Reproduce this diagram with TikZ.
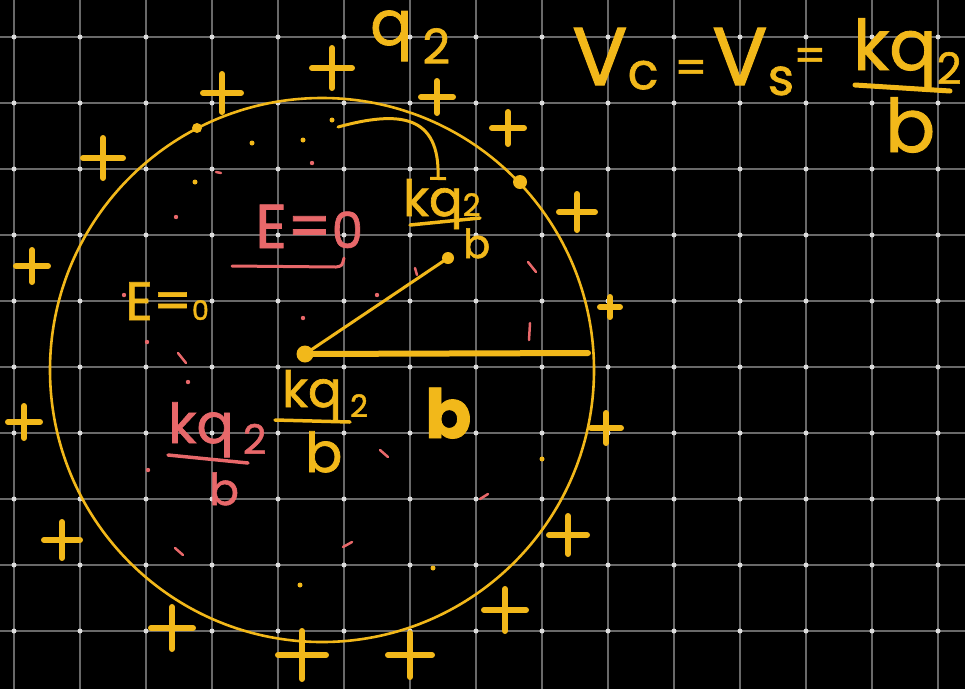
\documentclass[tikz,border=0pt]{standalone}
\usepackage{fontspec}
\setmainfont{Poppins}[FakeBold=1.3]
\definecolor{chalk}{RGB}{242,184,26}
\definecolor{rose}{RGB}{232,104,106}
\definecolor{gridline}{RGB}{105,105,105}
\definecolor{griddot}{RGB}{220,220,220}
\newcommand{\fs}[1]{\fontsize{#1}{#1}\selectfont}
\newcommand{\dn}[2][0.2em]{\raisebox{-#1}{\scalebox{0.62}{#2}}}
\begin{document}
\begin{tikzpicture}[x=1pt,y=-1pt,
  ink/.style={draw=chalk,line width=3pt,line cap=round},
  bar/.style={ink,line width=3.5pt},
  plus/.style={draw=chalk,line width=6pt,line cap=round},
  hand/.style={text=chalk,inner sep=0pt,anchor=base west},
  redhand/.style={hand,text=rose}]
\fill[black] (0,0) rectangle (965,689);
\useasboundingbox (0,0) rectangle (965,689);
% grid
\foreach \x in {14,80,...,938}
  \draw[gridline,line width=1.5pt] (\x,0)--(\x,689);
\foreach \y in {37,103,...,631}
  \draw[gridline,line width=1.5pt] (0,\y)--(965,\y);
\foreach \x in {14,80,...,938}
  \foreach \y in {37,103,...,631}
    \fill[griddot] (\x,\y) circle (2.5pt);
% sphere
\draw[chalk,line width=2.6pt] (322,370) circle (272pt);
\coordinate (O) at (305,354);
\coordinate (R) at (588,353);
\coordinate (P) at (448,258);
\draw[ink,line width=6pt] (O)--(R);
\draw[ink] (O)--(P);
\fill[chalk] (O) circle (8.5pt) (P) circle (6pt) (197,128) circle (5pt) (520,182) circle (7pt);
% charges
\foreach \x/\y/\s in {332/68/20,222/93/19,103/158/20,437/97/16,508/128/16,
    577/212/18,610/307/10,606/428/15,32/266/16,24/422/16,62/540/18,
    568/535/19,172/628/21,302/655/24,410/655/22,505/610/21}
  \draw[plus] (\x-\s,\y)--(\x+\s,\y) (\x,\y-\s)--(\x,\y+\s);
% labels
\node[hand,font=\fs{62}] (q) at (370,45) {q\,\dn[0.3em]{\scalebox{1.25}{2}}};
\node[hand,font=\fs{82}] (vc) at (572,85) {V\dn[0.05em]{c}};
\node[hand,font=\fs{46},anchor=center] (eqa) at (691,72) {=};
\node[hand,font=\fs{82}] (vs) at (712,85) {V\dn[0.12em]{s}};
\node[hand,font=\fs{46},anchor=center] (eqb) at (810,60) {=};
\node[hand,font=\fs{70}] (vnum) at (853,70) {kq\dn{2}};
\draw[bar,line width=5pt] (855,85)--(950,91);
\node[hand,font=\fs{74}] (vden) at (885,152) {b};
\node[redhand,font=\fs{62}] (redE) at (255,248) {E=\scalebox{0.8}{0}};
\draw[rose,line width=3pt,line cap=round] (232,266)--(336,267) .. controls (342,266) .. (344,258);
\node[hand,font=\fs{54}] (yelE) at (125,320) {E=\scalebox{0.5}{0}};
\node[hand,font=\fs{50}] (knum) at (403,216) {kq\dn[0em]{2}};
\draw[bar] (410,225)--(480,218);
\node[hand,font=\fs{40}] (kden) at (463,258) {b};
\coordinate (from) at (338,127);
\coordinate (tip) at (438,180);
\draw[ink,-|] (from) .. controls (400,110) and (440,115) .. (tip);
\node[hand,font=\fs{50}] (cnum) at (282,407) {kq\,\dn{2}};
\draw[bar] (275,420)--(350,422);
\node[hand,font=\fs{55}] (cden) at (305,472) {b};
\node[redhand,font=\fs{55}] (rnum) at (168,443) {kq\,\dn{\scalebox{1.2}{2}}};
\draw[rose,line width=3.5pt,line cap=round] (168,455)--(248,463);
\node[redhand,font=\fs{44}] (rden) at (209,505) {b};
\node[hand,font=\fs{68}\bfseries] (bigb) at (425,438) {b};
% specks
\foreach \x/\y in {312/163,176/217,124/295,147/342,188/382,303/318,377/295,148/470}
  \fill[rose] (\x,\y) circle (2.2pt);
\foreach \x/\y/\u/\v in {216/172/221/173,178/353/186/363,380/450/388/457,
    175/548/183/555,343/547/352/542,480/499/488/494,530/323/529/340,528/262/536/272,415/268/417/275}
  \draw[rose,line width=2.5pt,line cap=round] (\x,\y)--(\u,\v);
\foreach \x/\y in {252/143,195/182,303/140,332/120,300/585,433/568,542/459}
  \fill[chalk] (\x,\y) circle (2.5pt);
\end{tikzpicture}
\end{document}
